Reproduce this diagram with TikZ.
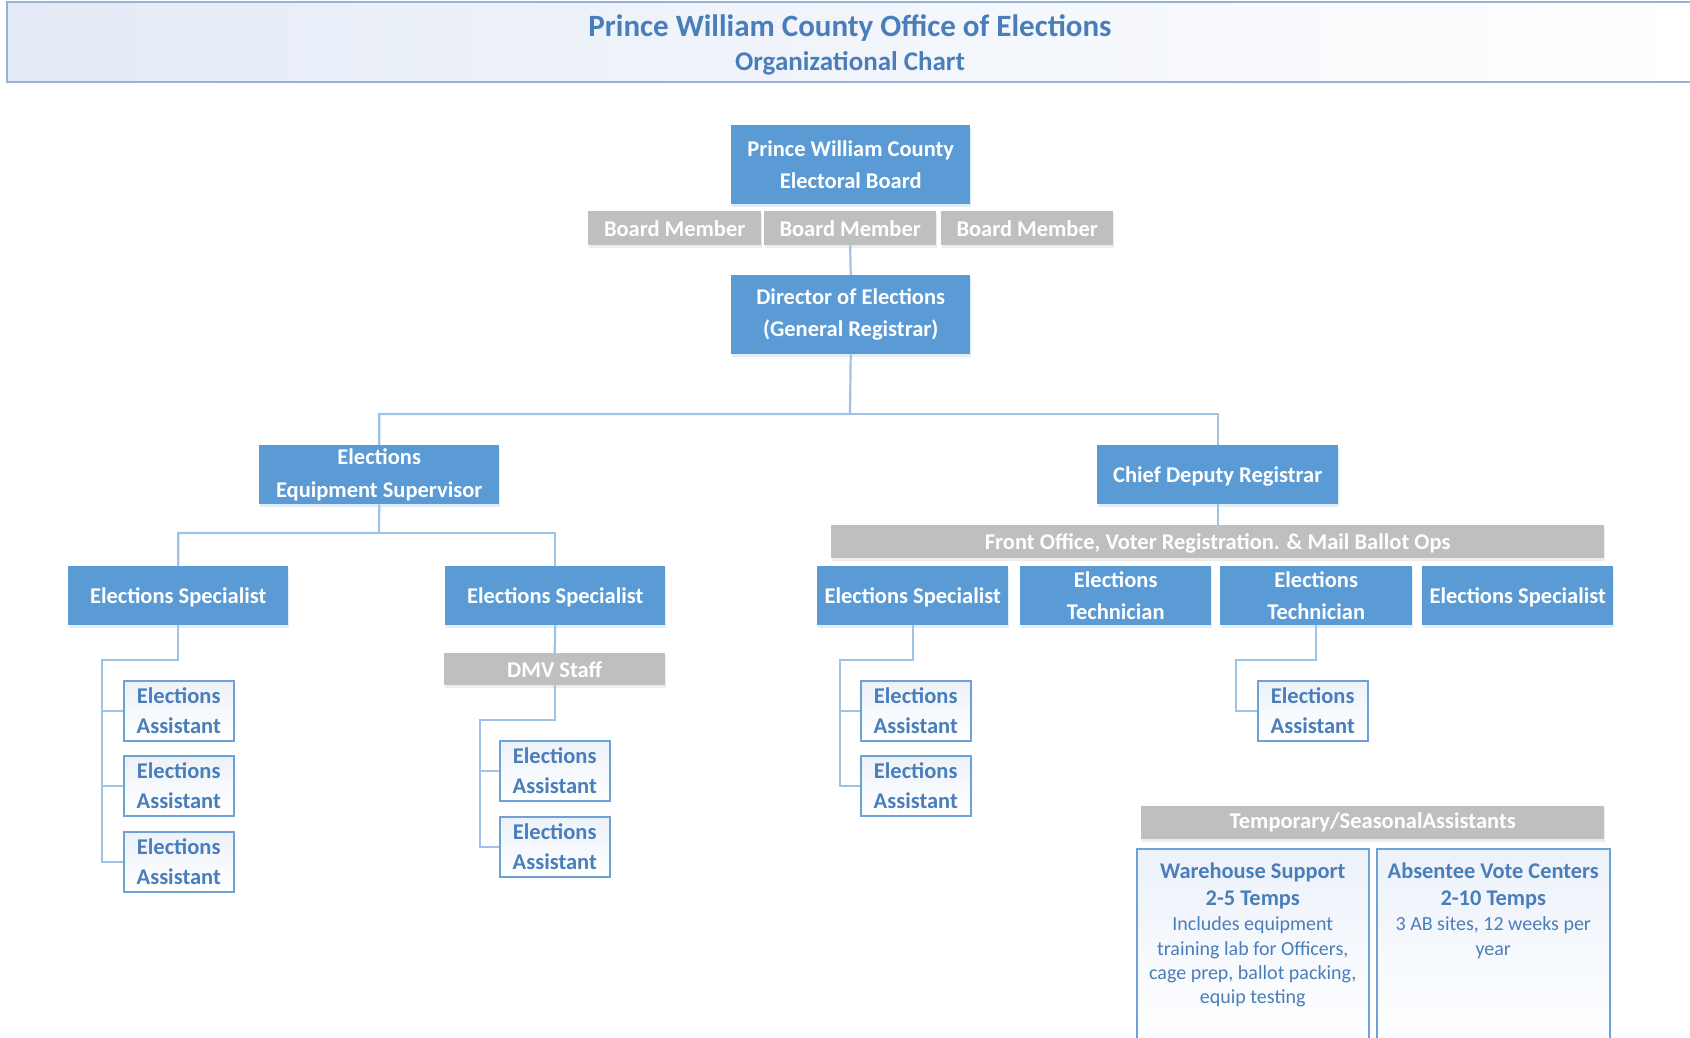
\documentclass[tikz,border=0pt]{standalone}
\usepackage{fontspec}
\setmainfont{Carlito}
\usetikzlibrary{shadows}
\definecolor{boxblue}{RGB}{91,155,213}
\definecolor{boxgray}{RGB}{191,191,191}
\definecolor{connblue}{RGB}{157,195,230}
\definecolor{txtblue}{RGB}{74,126,187}
\definecolor{asstborder}{RGB}{111,160,216}
\definecolor{hdrborder}{RGB}{149,179,215}
\definecolor{hdrfill}{RGB}{228,235,246}
\definecolor{asstfill}{RGB}{236,242,250}
\tikzset{
  bluebox/.style={fill=boxblue, text=white, font=\bfseries\fontsize{22.5}{32.5}\selectfont,
    align=center, inner sep=0pt, anchor=north west,
    drop shadow={opacity=0.18, shadow xshift=1pt, shadow yshift=-3pt, fill=boxblue}},
  graybox/.style={fill=boxgray, text=white, font=\bfseries\fontsize{22.5}{32.5}\selectfont,
    align=center, inner sep=0pt, anchor=north west,
    drop shadow={opacity=0.15, shadow xshift=1pt, shadow yshift=-3pt, fill=gray}},
  oneline/.style={text depth=0pt},
  asstbox/.style={draw=asstborder, line width=1.5pt, top color=asstfill, bottom color=white,
    text=txtblue, font=\bfseries\fontsize{22.5}{30}\selectfont, align=center, inner sep=0pt,
    anchor=north west, minimum width=110pt, minimum height=60pt},
  tempbox/.style={draw=asstborder, line width=1.5pt, top color=asstfill, bottom color=white,
    inner sep=0pt, anchor=north west, minimum height=200pt},
  tempbold/.style={text=txtblue, align=center, anchor=north, inner sep=0pt,
    font=\bfseries\fontsize{22.4}{27}\selectfont},
  tempreg/.style={text=txtblue, align=center, anchor=north, inner sep=0pt,
    font=\fontsize{20}{24.3}\selectfont},
  conn/.style={draw=connblue, line width=2.2pt},
}
\begin{document}
\begin{tikzpicture}[x=1pt,y=-1pt]
\useasboundingbox (0,0) rectangle (1690,1038);
% header
\path[left color=hdrfill, right color=white, draw=hdrborder, line width=2pt]
  (7,2) rectangle (1700,82);
\node[text=txtblue, font=\bfseries\fontsize{31}{34}\selectfont] (title) at (850,28) {Prince William County Office of Elections};
\node[text=txtblue, font=\bfseries\fontsize{27}{30}\selectfont] (subtitle) at (850,63) {Organizational Chart};

% top
\node[bluebox, minimum width=239pt, minimum height=79pt] (eb) at (731,125) {Prince William County\\Electoral Board};
\node[graybox, minimum width=173pt, minimum height=34pt] (bm1) at (588,211) {Board Member};
\node[graybox, minimum width=172pt, minimum height=34pt] (bm2) at (764,211) {Board Member};
\node[graybox, minimum width=172pt, minimum height=34pt] (bm3) at (941,211) {Board Member};
\node[bluebox, minimum width=239pt, minimum height=79pt] (dir) at (731,275) {Director of Elections\\(General Registrar)};

\node[bluebox, minimum width=240pt, minimum height=59pt] (eqs) at (259,445) {Elections\\Equipment Supervisor};
\node[bluebox, oneline, minimum width=241pt, minimum height=59pt] (cdr) at (1097,445) {Chief Deputy Registrar};

% left subtree
\node[bluebox, oneline, minimum width=220pt, minimum height=59pt] (esA) at (68,566) {Elections Specialist};
\node[bluebox, oneline, minimum width=220pt, minimum height=59pt] (esB) at (445,566) {Elections Specialist};
\node[graybox, minimum width=221pt, minimum height=32pt] (dmv) at (444,653) {DMV Staff};

\node[asstbox] (a1) at (123,680) {Elections\\Assistant};
\node[asstbox] (a2) at (123,755) {Elections\\Assistant};
\node[asstbox] (a3) at (123,831) {Elections\\Assistant};
\node[asstbox] (b1) at (499,740) {Elections\\Assistant};
\node[asstbox] (b2) at (499,816) {Elections\\Assistant};

% right subtree
\node[graybox, oneline, minimum width=773pt, minimum height=33pt] (fo) at (831,525) {Front Office, Voter Registration. \& Mail Ballot Ops};
\node[bluebox, oneline, minimum width=191pt, minimum height=59pt] (esC) at (817,566) {Elections Specialist};
\node[bluebox, minimum width=191pt, minimum height=59pt] (et1) at (1020,566) {Elections\\Technician};
\node[bluebox, minimum width=192pt, minimum height=59pt] (et2) at (1220,566) {Elections\\Technician};
\node[bluebox, oneline, minimum width=191pt, minimum height=59pt] (esD) at (1422,566) {Elections Specialist};

\node[asstbox] (c1) at (860,680) {Elections\\Assistant};
\node[asstbox] (c2) at (860,755) {Elections\\Assistant};
\node[asstbox] (d1) at (1257,680) {Elections\\Assistant};

% temporary
\node[graybox, minimum width=463pt, minimum height=33pt] (tmp) at (1141,806) {Temporary/SeasonalAssistants};
\node[tempbox, minimum width=232pt] (wh) at (1136,848) {};
\node[tempbold] (whb) at ([yshift=-15pt]wh.north) {Warehouse Support\\2-5 Temps};
\node[tempreg] (whr) at ([yshift=-7pt]whb.south) {Includes equipment\\training lab for Officers,\\cage prep, ballot packing,\\equip testing};
\node[tempbox, minimum width=233pt] (av) at (1376,848) {};
\node[tempbold] (avb) at ([yshift=-15pt]av.north) {Absentee Vote Centers\\2-10 Temps};
\node[tempreg] (avr) at ([yshift=-7pt]avb.south) {3 AB sites, 12 weeks per\\year};

% coordinates for connectors
\coordinate (bus1) at (850,414);
\coordinate (bus2) at (379,533);
\coordinate (ja) at (102,660);
\coordinate (jb) at (480,720);
\coordinate (jc) at (840,660);
\coordinate (jd) at (1236,660);

% connectors
\draw[conn] (bm2.south) -- (dir.north);
\draw[conn] (dir.south) -- (bus1) -| (eqs.north);
\draw[conn] (bus1) -| (cdr.north);
\draw[conn] (eqs.south) -- (bus2) -| (esA.north);
\draw[conn] (bus2) -| (esB.north);
\draw[conn] (esB.south) -- (dmv.north);
\draw[conn] (esA.south) |- (ja) |- (a3.west);
\draw[conn] (ja) |- (a1.west);
\draw[conn] (ja) |- (a2.west);
\draw[conn] (dmv.south) |- (jb) |- (b2.west);
\draw[conn] (jb) |- (b1.west);
\draw[conn] (cdr.south) -- (fo.north);
\draw[conn] (esC.south) |- (jc) |- (c2.west);
\draw[conn] (jc) |- (c1.west);
\draw[conn] (et2.south) |- (jd) |- (d1.west);
\end{tikzpicture}
\end{document}
